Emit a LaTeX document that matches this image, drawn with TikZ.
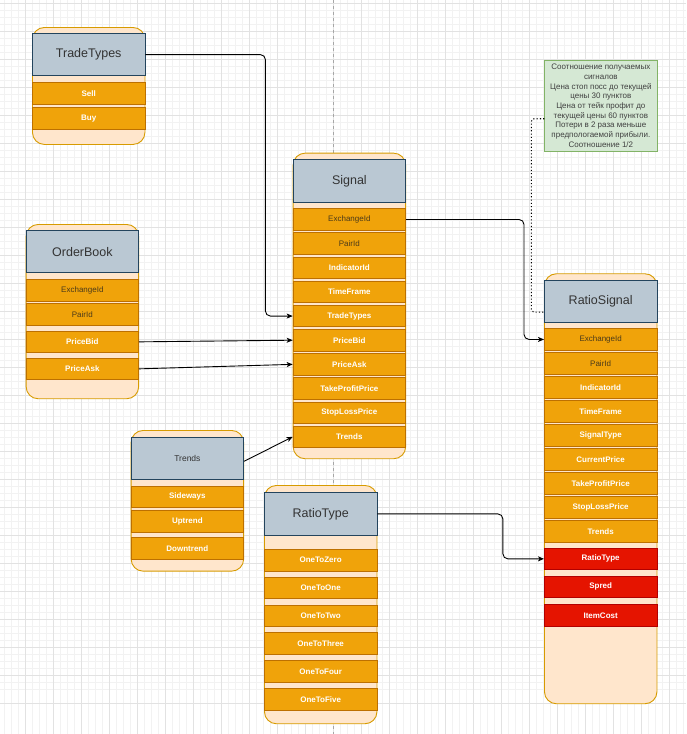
\documentclass[tikz,border=0pt]{standalone}
\usepackage{fontspec}
\setmainfont{Liberation Sans}
\usetikzlibrary{arrows.meta}
\definecolor{peach}{HTML}{FFE6CC}
\definecolor{laneline}{HTML}{D79B00}
\definecolor{headfill}{HTML}{BAC8D3}
\definecolor{headline}{HTML}{23445D}
\definecolor{fieldfill}{HTML}{F0A30A}
\definecolor{fieldline}{HTML}{BD7000}
\definecolor{fieldtext}{HTML}{4A3A1A}
\definecolor{redfill}{HTML}{E51400}
\definecolor{redline}{HTML}{B20000}
\definecolor{notefill}{HTML}{D5E8D4}
\definecolor{noteline}{HTML}{82B366}
\definecolor{gridminor}{HTML}{F2F2F2}
\definecolor{gridmajor}{HTML}{E2E2E2}
\begin{document}
\begin{tikzpicture}[x=1pt,y=-1pt,
  lane/.style={draw=laneline,fill=peach,line width=0.9pt,rounded corners=12pt,minimum width=112.5pt,anchor=north west,inner sep=0pt},
  head/.style={draw=headline,fill=headfill,line width=0.9pt,minimum width=112.5pt,minimum height=42.3pt,anchor=north west,inner sep=0pt,text=black!80,font=\fontsize{12.5}{14}\selectfont},
  field/.style={draw=fieldline,fill=fieldfill,line width=0.8pt,minimum width=112.5pt,minimum height=21.5pt,anchor=north west,inner sep=0pt,text=white,font=\fontsize{8}{9}\selectfont\bfseries},
  fielddk/.style={field,text=fieldtext,font=\fontsize{8}{9}\selectfont},
  redfield/.style={field,draw=redline,fill=redfill},
  link/.style={-{Stealth[length=6pt,width=5pt,inset=1.5pt]},line width=0.9pt,rounded corners=5pt},
]
\useasboundingbox (0,0) rectangle (686,734);
\fill[white] (0,0) rectangle (686,734);
\foreach \k in {0,...,98} {
  \draw[gridminor,line width=0.5pt] ({4.7+7*\k},0) -- ({4.7+7*\k},734);
  \draw[gridminor,line width=0.5pt] (0,{3+7*\k}) -- (686,{3+7*\k});
}
\foreach \k in {0,...,25} {
  \draw[gridmajor,line width=0.6pt] ({25.7+28*\k},0) -- ({25.7+28*\k},734);
  \draw[gridmajor,line width=0.6pt] (0,{3+28*\k}) -- (686,{3+28*\k});
}
\draw[black!35,line width=0.8pt,dash pattern=on 3pt off 3pt] (333.7,0) -- (333.7,734);

\node[lane,minimum height=117pt] (tt) at (32,27) {};
\node[head] (TradeTypes) at (32,33) {TradeTypes};
\foreach \t [count=\i] in {Sell,Buy}
  \node[field] (tt\i) at (32,{82.3+24.7*(\i-1)}) {\t};

\node[lane,minimum height=305.6pt] (sig) at (292.7,152.7) {};
\node[head] (Signal) at (292.7,159.3) {Signal};
\foreach \t/\s [count=\i] in {ExchangeId/fielddk,PairId/fielddk,IndicatorId/field,TimeFrame/field,TradeTypes/field,PriceBid/field,PriceAsk/field,TakeProfitPrice/field,StopLossPrice/field,Trends/field}
  \node[\s] (sig\i) at (292.7,{208.3+24.15*(\i-1)}) {\t};

\node[lane,minimum height=174.3pt] (ob) at (25.7,224) {};
\node[head] (OrderBook) at (25.7,230) {OrderBook};
\foreach \t/\s/\y [count=\i] in {ExchangeId/fielddk/279,PairId/fielddk/303.3,PriceBid/field/330.7,PriceAsk/field/357.7}
  \node[\s] (ob\i) at (25.7,\y) {\t};

\node[lane,minimum height=140.7pt] (tr) at (130.7,430) {};
\node[head,font=\fontsize{8.5}{10}\selectfont] (Trends) at (130.7,436.7) {Trends};
\foreach \t/\y [count=\i] in {Sideways/485.7,Uptrend/510.3,Downtrend/537.3}
  \node[field] (tr\i) at (130.7,\y) {\t};

\node[lane,minimum height=238.3pt] (rt) at (264,485) {};
\node[head] (RatioType) at (264,492.3) {RatioType};
\foreach \t [count=\i] in {OneToZero,OneToOne,OneToTwo,OneToThree,OneToFour,OneToFive}
  \node[field] (rt\i) at (264,{549+27.8*(\i-1)}) {\t};

\node[lane,minimum height=430pt] (rs) at (544,273.3) {};
\node[head] (RatioSignal) at (544,280) {RatioSignal};
\foreach \t/\s [count=\i] in {ExchangeId/fielddk,PairId/fielddk,IndicatorId/field,TimeFrame/field,SignalType/field,CurrentPrice/field,TakeProfitPrice/field,StopLossPrice/field,Trends/field}
  \node[\s] (rs\i) at (544,{328.3+23.97*(\i-1)}) {\t};
\foreach \t/\y [count=\i] in {RatioType/547.7,Spred/575.7,ItemCost/604.3}
  \node[redfield] (rsx\i) at (544,\y) {\t};

\node[draw=noteline,fill=notefill,line width=0.7pt,anchor=north west,minimum width=112.4pt,minimum height=90.7pt,inner sep=0pt,align=center,text=black!75,font=\fontsize{8}{9.7}\selectfont] (note) at (544.3,60)
  {Соотношение получаемых\\сигналов\\Цена стоп посс до текущей\\цены 30 пунктов\\Цена от тейк профит до\\текущей цены 60 пунктов\\Потери в 2 раза меньше\\предпологаемой прибыли.\\Соотношение 1/2};

\draw[link] (TradeTypes.east) -- ++(120,0) |- (sig5.west);
\draw[link] (sig1.east) -- ++(118,0) |- (rs1.west);
\draw[link] (ob3.east) -- (sig6.west);
\draw[link] (ob4.east) -- (sig7.west);
\draw[link] ([yshift=-3pt]Trends.east) -- (sig10.west);
\draw[link] (RatioType.east) -- ++(125.5,0) |- (rsx1.west);
\draw[line width=1.1pt,dash pattern=on 1.1pt off 2.2pt,rounded corners=3pt] ([yshift=-13pt]note.west) -- ++(-13,0) |- ([yshift=-10.5pt]RatioSignal.west);
\end{tikzpicture}
\end{document}
